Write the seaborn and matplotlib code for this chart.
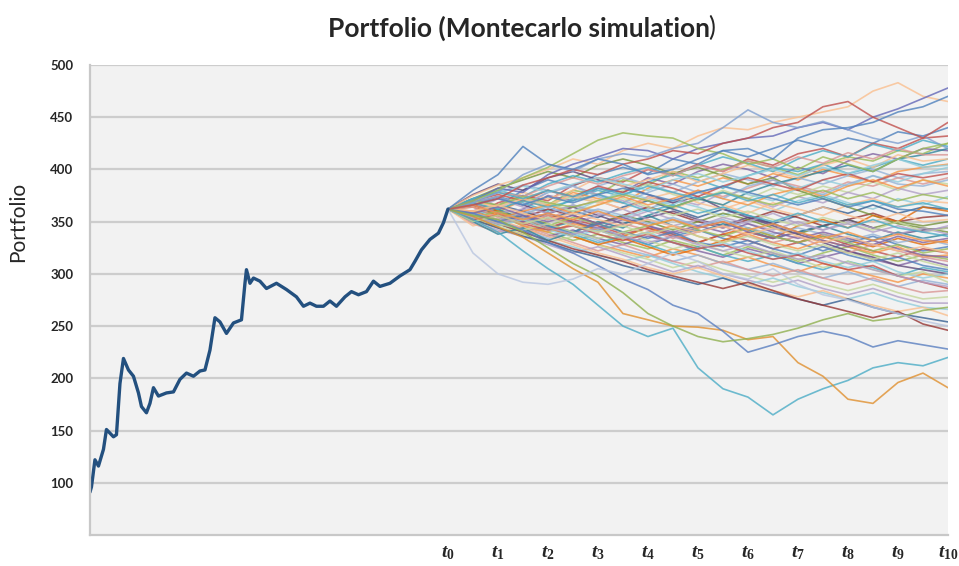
import matplotlib
matplotlib.use('Agg')
import matplotlib.pyplot as plt
import seaborn as sns
import pandas as pd

# historical portfolio (x in units of t-steps, t0 = 0)
hist_x = [-7.16, -7.13, -7.06, -6.99, -6.89, -6.83, -6.69, -6.63, -6.56, -6.49, -6.39,
          -6.29, -6.19, -6.13, -6.03, -5.96, -5.89, -5.79, -5.63, -5.49, -5.36, -5.23,
          -5.09, -4.96, -4.86, -4.76, -4.66, -4.56, -4.43, -4.29, -4.13, -4.06, -4.03,
          -3.96, -3.89, -3.76, -3.63, -3.43, -3.23, -3.03, -2.89, -2.76, -2.63, -2.49,
          -2.36, -2.23, -2.06, -1.93, -1.79, -1.63, -1.49, -1.36, -1.16, -0.96, -0.76,
          -0.66, -0.53, -0.36, -0.19, -0.09, 0.0]
hist_y = [91, 96, 122, 116, 132, 151, 144, 146, 195, 219, 208,
          202, 186, 173, 167, 176, 191, 183, 186, 187, 199, 205,
          202, 207, 208, 227, 258, 254, 243, 253, 256, 291, 304,
          291, 296, 293, 286, 291, 285, 278, 269, 272, 269, 269,
          274, 269, 278, 283, 280, 283, 293, 288, 291, 298, 304,
          312, 323, 333, 339, 349, 362]

sim_steps = [0, 0.5, 1, 1.5, 2, 2.5, 3, 3.5, 4, 4.5, 5, 5.5, 6, 6.5, 7, 7.5, 8, 8.5, 9, 9.5, 10]

# simulated paths that stray far below the bulk
sim_low = [
    [362, 352, 340, 322, 305, 290, 270, 250, 240, 248, 210, 190, 182, 165, 180, 190, 198, 210, 215, 212, 220],
    [362, 355, 345, 335, 320, 305, 292, 262, 256, 250, 249, 246, 237, 240, 215, 202, 180, 176, 196, 205, 191],
    [362, 358, 350, 342, 330, 320, 308, 295, 285, 270, 262, 245, 225, 232, 240, 245, 240, 230, 236, 232, 228],
    [362, 356, 352, 340, 325, 310, 298, 282, 262, 250, 240, 235, 238, 242, 248, 256, 262, 255, 258, 265, 268],
    [362, 320, 300, 292, 290, 295, 305, 300, 310, 320, 312, 300, 295, 305, 290, 280, 275, 268, 262, 255, 250],
]
low_colors = ['#4BACC6', '#E0902F', '#5A7FC0', '#8FB04F', '#B9C6E0']

# simulated paths on the upper edge
sim_high = [
    [362, 375, 385, 392, 400, 410, 405, 418, 425, 420, 432, 440, 438, 445, 450, 455, 460, 475, 483, 470, 465],
    [362, 370, 382, 378, 395, 405, 412, 420, 418, 410, 420, 425, 430, 432, 440, 445, 438, 450, 458, 468, 478],
    [362, 368, 378, 395, 405, 398, 410, 415, 412, 420, 425, 440, 457, 445, 440, 446, 438, 430, 425, 432, 420],
    [362, 370, 380, 392, 402, 415, 428, 435, 432, 430, 420, 415, 405, 410, 400, 412, 405, 398, 410, 420, 425],
    [362, 366, 372, 385, 392, 400, 395, 405, 410, 418, 415, 425, 430, 440, 445, 460, 465, 450, 440, 430, 445],
    [362, 380, 395, 422, 405, 400, 410, 405, 395, 400, 410, 418, 420, 410, 430, 438, 440, 445, 455, 460, 470],
]
high_colors = ['#FABF8F', '#6468B8', '#7F9FD0', '#9BBB59', '#C0504D', '#4F81BD']

# the dense core of the fan
sim_core = [
    [362, 372, 365, 380, 390, 384, 395, 402, 396, 410, 405, 418, 412, 420, 428, 422, 430, 425, 436, 432, 440],
    [362, 355, 368, 375, 370, 385, 392, 388, 400, 395, 405, 398, 410, 404, 415, 420, 412, 425, 420, 430, 432],
    [362, 368, 360, 372, 366, 380, 376, 390, 385, 398, 392, 400, 408, 402, 395, 405, 412, 408, 418, 415, 425],
    [362, 358, 350, 362, 375, 370, 382, 378, 392, 386, 398, 405, 400, 392, 402, 396, 408, 415, 410, 420, 418],
    [362, 366, 374, 368, 360, 372, 380, 374, 388, 395, 390, 382, 394, 402, 398, 405, 396, 402, 410, 404, 410],
    [362, 352, 360, 370, 364, 378, 372, 368, 382, 390, 384, 392, 386, 396, 390, 400, 394, 388, 398, 402, 405],
    [362, 370, 378, 385, 380, 372, 384, 392, 386, 378, 388, 396, 390, 384, 392, 386, 394, 400, 392, 396, 398],
    [362, 356, 348, 358, 352, 364, 370, 362, 374, 368, 380, 374, 382, 390, 384, 378, 388, 384, 392, 386, 392],
    [362, 368, 362, 356, 366, 374, 368, 380, 386, 376, 370, 380, 372, 382, 376, 384, 378, 388, 380, 390, 386],
    [362, 360, 372, 366, 378, 384, 376, 370, 362, 372, 366, 378, 372, 364, 374, 368, 378, 372, 382, 376, 380],
    [362, 354, 360, 350, 358, 366, 360, 354, 362, 370, 364, 356, 366, 360, 370, 376, 368, 362, 372, 366, 374],
    [362, 370, 364, 372, 380, 374, 368, 376, 370, 362, 372, 366, 358, 368, 362, 356, 366, 372, 364, 370, 368],
    [362, 358, 366, 360, 352, 360, 354, 364, 370, 362, 354, 362, 356, 348, 356, 364, 358, 366, 358, 364, 362],
    [362, 366, 360, 354, 362, 356, 348, 356, 364, 358, 350, 344, 352, 360, 354, 346, 352, 358, 350, 354, 356],
    [362, 352, 346, 354, 348, 340, 348, 356, 350, 342, 350, 358, 352, 344, 338, 346, 352, 344, 350, 346, 350],
    [362, 368, 374, 366, 358, 364, 356, 348, 354, 360, 352, 346, 354, 348, 340, 346, 352, 344, 338, 342, 344],
    [362, 356, 362, 352, 344, 350, 342, 348, 356, 346, 340, 348, 342, 334, 340, 346, 338, 332, 340, 334, 338],
    [362, 364, 356, 348, 356, 350, 342, 336, 344, 338, 330, 338, 344, 336, 330, 338, 332, 326, 334, 328, 332],
    [362, 354, 348, 340, 346, 338, 344, 336, 328, 336, 342, 334, 328, 336, 330, 322, 330, 336, 328, 322, 326],
    [362, 366, 358, 350, 344, 352, 346, 338, 344, 336, 330, 338, 332, 324, 330, 336, 328, 322, 316, 324, 320],
    [362, 350, 356, 346, 340, 332, 338, 330, 324, 332, 326, 318, 326, 320, 312, 320, 326, 318, 312, 318, 314],
    [362, 358, 350, 344, 336, 342, 334, 328, 336, 330, 322, 316, 324, 318, 310, 316, 322, 314, 308, 314, 308],
    [362, 356, 348, 354, 346, 338, 330, 336, 328, 320, 326, 318, 312, 318, 310, 304, 312, 306, 298, 306, 302],
    [362, 352, 344, 338, 344, 336, 328, 322, 316, 324, 318, 310, 316, 308, 302, 310, 304, 298, 292, 300, 296],
    [362, 358, 350, 342, 334, 340, 332, 324, 318, 312, 318, 310, 304, 310, 302, 296, 302, 294, 288, 294, 290],
    [362, 348, 340, 346, 338, 330, 322, 328, 320, 312, 306, 312, 304, 298, 304, 296, 290, 296, 288, 282, 284],
    [362, 354, 346, 338, 330, 336, 328, 320, 314, 306, 312, 304, 298, 292, 298, 290, 284, 290, 282, 276, 278],
    [362, 350, 342, 336, 328, 320, 326, 318, 310, 302, 308, 300, 294, 288, 294, 286, 280, 286, 278, 272, 272],
    [362, 356, 348, 340, 332, 326, 318, 312, 318, 310, 302, 296, 290, 296, 288, 282, 276, 282, 274, 268, 266],
    [362, 346, 352, 344, 336, 328, 320, 314, 306, 300, 306, 298, 290, 284, 278, 284, 276, 270, 264, 268, 260],
    [362, 352, 344, 336, 330, 322, 316, 308, 302, 296, 290, 296, 288, 282, 276, 270, 276, 268, 262, 258, 254],
    [362, 356, 348, 340, 332, 324, 318, 312, 304, 298, 292, 286, 292, 284, 276, 270, 264, 258, 264, 252, 246],
    [362, 372, 382, 390, 398, 392, 404, 410, 404, 396, 402, 394, 386, 392, 380, 372, 364, 356, 348, 344, 340],
    [362, 376, 386, 380, 392, 398, 390, 384, 376, 368, 374, 362, 354, 346, 338, 330, 322, 316, 308, 304, 300],
    [362, 350, 338, 344, 332, 340, 350, 344, 356, 364, 372, 366, 378, 386, 392, 398, 404, 398, 410, 414, 420],
    [362, 368, 360, 352, 344, 336, 328, 334, 326, 318, 324, 332, 340, 334, 346, 352, 344, 356, 350, 364, 360],
]

# more paths through the middle of the fan
sim_mid = [
    [362, 370, 364, 378, 372, 380, 392, 384, 390, 398, 388, 396, 404, 398, 392, 404, 410, 402, 414, 408, 410],
    [362, 356, 364, 372, 366, 360, 370, 378, 372, 366, 378, 384, 376, 370, 382, 390, 384, 394, 388, 396, 402],
    [362, 368, 358, 362, 354, 348, 356, 362, 352, 346, 352, 344, 350, 358, 348, 342, 350, 344, 338, 344, 338],
    [362, 352, 358, 346, 340, 348, 342, 334, 340, 346, 336, 330, 338, 330, 324, 332, 326, 320, 326, 316, 318],
    [362, 372, 380, 374, 386, 394, 388, 396, 402, 394, 404, 412, 406, 398, 410, 418, 412, 424, 418, 428, 422],
    [362, 358, 366, 374, 368, 360, 366, 372, 364, 356, 362, 354, 360, 352, 346, 354, 348, 342, 350, 340, 344],
    [362, 364, 354, 348, 356, 346, 340, 348, 342, 334, 340, 346, 336, 330, 336, 326, 320, 328, 322, 316, 312],
    [362, 368, 374, 366, 378, 384, 374, 368, 378, 386, 378, 372, 384, 390, 382, 376, 386, 394, 386, 384, 390],
    [362, 366, 358, 350, 358, 350, 344, 352, 346, 338, 344, 350, 340, 334, 340, 332, 326, 332, 324, 318, 316],
    [362, 354, 360, 352, 346, 354, 348, 340, 346, 352, 342, 336, 344, 336, 330, 336, 330, 322, 328, 320, 324],
    [362, 370, 376, 370, 380, 374, 384, 378, 388, 382, 374, 384, 392, 386, 380, 390, 396, 388, 396, 392, 396],
    [362, 356, 350, 356, 346, 340, 348, 340, 334, 340, 330, 326, 332, 324, 318, 326, 318, 312, 316, 308, 304],
    [362, 370, 364, 372, 366, 376, 370, 362, 372, 378, 368, 362, 370, 362, 356, 364, 356, 350, 358, 350, 352],
    [362, 354, 346, 352, 342, 336, 342, 334, 340, 330, 324, 330, 322, 314, 320, 312, 306, 312, 302, 296, 300],
    [362, 366, 372, 364, 358, 366, 358, 352, 360, 352, 346, 354, 348, 342, 350, 342, 348, 340, 346, 340, 346],
    [362, 360, 352, 360, 366, 358, 366, 374, 366, 372, 380, 372, 366, 376, 382, 374, 384, 390, 382, 390, 384],
    [362, 368, 362, 370, 364, 370, 376, 368, 360, 366, 358, 364, 356, 350, 358, 350, 344, 352, 344, 340, 336],
    [362, 356, 348, 342, 348, 340, 334, 340, 332, 324, 330, 322, 316, 322, 314, 306, 312, 304, 298, 302, 292],
    [362, 370, 378, 374, 384, 392, 386, 394, 400, 394, 404, 398, 408, 402, 412, 406, 416, 410, 420, 414, 414],
    [362, 358, 352, 358, 364, 356, 362, 356, 348, 354, 346, 352, 344, 338, 344, 338, 332, 338, 330, 334, 328],
    [362, 358, 364, 356, 350, 356, 348, 354, 346, 340, 346, 340, 348, 340, 334, 340, 334, 328, 336, 330, 334],
    [362, 370, 366, 374, 368, 364, 370, 376, 370, 364, 372, 378, 372, 366, 374, 380, 372, 378, 370, 376, 372],
    [362, 352, 356, 348, 342, 346, 338, 332, 338, 330, 324, 328, 320, 314, 318, 310, 304, 308, 298, 292, 286],
    [362, 366, 372, 366, 374, 368, 376, 382, 376, 370, 378, 384, 378, 372, 366, 372, 364, 370, 362, 360, 356],
    [362, 360, 366, 358, 352, 358, 352, 346, 352, 346, 340, 346, 338, 344, 336, 330, 336, 328, 322, 326, 320],
    [362, 370, 378, 384, 378, 386, 392, 386, 380, 390, 396, 388, 394, 400, 394, 402, 396, 404, 410, 402, 404],
    [362, 354, 348, 354, 344, 338, 344, 336, 330, 336, 328, 322, 328, 320, 314, 318, 310, 304, 298, 292, 288],
    [362, 366, 358, 352, 358, 352, 360, 352, 346, 352, 344, 350, 342, 348, 340, 334, 340, 332, 338, 332, 330],
    [362, 372, 378, 372, 380, 374, 382, 376, 384, 378, 372, 378, 370, 376, 368, 374, 366, 370, 364, 368, 362],
    [362, 350, 356, 348, 354, 346, 340, 346, 338, 344, 336, 330, 336, 328, 322, 328, 320, 314, 320, 312, 306],
]

core_colors = ['#4F81BD', '#C0504D', '#9BBB59', '#8064A2', '#4BACC6', '#F79646',
               '#95B3D7', '#DA9694', '#C4D79B', '#B1A0C7', '#92CDDC', '#FABF8F',
               '#366092', '#963634', '#76933C', '#60497A', '#31869B', '#E26B0A']
mid_colors = ['#FABF8F', '#92CDDC', '#B1A0C7', '#F79646', '#4BACC6', '#C4D79B',
              '#DA9694', '#95B3D7', '#8064A2', '#9BBB59', '#C0504D', '#4F81BD']

y_ticks = [100, 150, 200, 250, 300, 350, 400, 450, 500]
x_labels = [f'$t_{{{i}}}$' for i in range(11)]

# long form table for seaborn
rows = []
colors = {}
groups = [(sim_core, core_colors), (sim_mid, mid_colors), (sim_low, low_colors), (sim_high, high_colors)]
n = 0
for paths, cols in groups:
    for k, path in enumerate(paths):
        name = f'p{n}'
        colors[name] = cols[k % len(cols)]
        for s, v in zip(sim_steps, path):
            rows.append((name, s, v))
        n += 1
sim = pd.DataFrame(rows, columns=['path', 'step', 'value'])
hist = pd.DataFrame({'step': hist_x, 'value': hist_y})

sns.set_style('white')
plt.rcParams['font.family'] = ['Lato', 'DejaVu Sans']
plt.rcParams['mathtext.fontset'] = 'custom'
plt.rcParams['mathtext.it'] = 'Liberation Serif:italic:bold'
plt.rcParams['mathtext.rm'] = 'Liberation Serif:bold'

fig = plt.figure(figsize=(9.59, 5.66), dpi=100)
ax = fig.add_axes([0.0938, 0.0548, 0.8947, 0.8304])
ax.set_facecolor('#F2F2F2')

sns.lineplot(data=sim, x='step', y='value', hue='path', palette=colors, legend=False,
             estimator=None, sort=False, linewidth=1.2, alpha=0.8, ax=ax)
sns.lineplot(data=hist, x='step', y='value', color='#23507F', linewidth=2.4,
             estimator=None, sort=False, ax=ax)

ax.set_xlim(-7.16, 10)
ax.set_ylim(50, 500)
ax.set_yticks(y_ticks)
ax.set_yticklabels([str(v) for v in y_ticks], fontweight='bold', fontsize=9.5)
ax.set_xticks(range(11))
ax.set_xticklabels(x_labels, fontsize=14)
ax.tick_params(axis='both', length=0)
ax.tick_params(axis='y', pad=12)
ax.tick_params(axis='x', pad=7)
ax.yaxis.grid(True, color='#CDCDCD', linewidth=1.6)
ax.set_axisbelow(True)
for side in ['top', 'right']:
    ax.spines[side].set_visible(False)
for side in ['left', 'bottom']:
    ax.spines[side].set_color('#C8C8C8')
    ax.spines[side].set_linewidth(1.6)

ax.set_xlabel('')
ax.set_ylabel('Portfolio', fontsize=15)
ax.yaxis.set_label_coords(-0.072, 0.665)

# title, closing bracket is not bold in the original
t = fig.text(0.541, 0.95, 'Portfolio (Montecarlo simulation', fontsize=19,
             fontweight='bold', ha='center', va='center')
fig.canvas.draw()
bb = t.get_window_extent().transformed(fig.transFigure.inverted())
fig.text(bb.x1 - 0.002, 0.95, ')', fontsize=19, ha='left', va='center')

fig.savefig('out.png', dpi=100)
